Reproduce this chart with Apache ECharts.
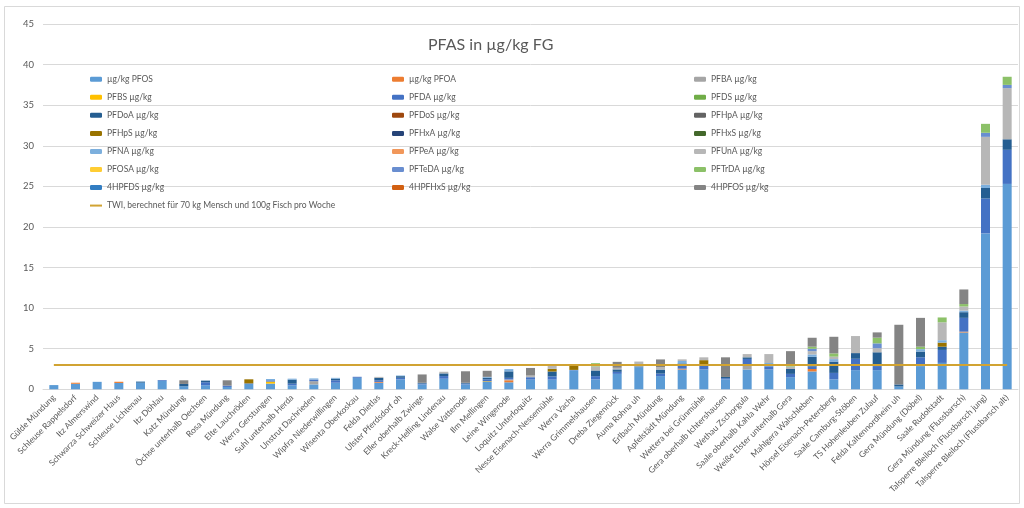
<!DOCTYPE html>
<html>
<head>
<meta charset="utf-8">
<script src="https://cdn.jsdelivr.net/npm/echarts@6/dist/echarts.min.js"></script>
<style>
html,body{margin:0;padding:0;background:#fff;}
#c{width:1024px;height:508px;}
</style>
</head>
<body>
<div id="c"></div>
<script>
const categories = ["Gülde Mündung","Schleuse Rappelsdorf","Itz Almerswind","Schwarza Schweizer Haus","Schleuse Lichtenau","Itz Döhlau","Katz Mündung","Öchse unterhalb Oechsen","Rosa Mündung","Elte Lauchröden","Werra Gerstungen","Suhl unterhalb Herda","Unstrut Dachrieden","Wipfra Niederwillingen","Wisenta Oberkoskau","Felda Dietlas","Ulster Pferdsdorf oh","Eller oberhalb Zwinge","Kreck-Helling Lindenau","Walse Vatterode","Ilm Mellingen","Leine Wingerode","Loquitz Unterloquitz","Nesse Eisenach-Nessemühle","Werra Vacha","Werra Grimmelshausen","Dreba Ziegenrück","Auma Rohna uh","Erlbach Mündung","Apfelstädt Mündung","Wettera bei Grünmühle","Gera oberhalb Ichtershausen","Wethau Zschorgula","Saale oberhalb Kahla Wehr","Weiße Elster unterhalb Gera","Mahlgera Walschleben","Hörsel Eisenach-Petersberg","Saale Camburg-Stöben","TS Hohenleuben Zulauf","Felda Kaltennordheim uh","Gera Mündung (Döbel)","Saale Rudolstadt","Gera Mündung (Flussbarsch)","Talsperre Bleiloch (Flussbarsch jung)","Talsperre Bleiloch (Flussbarsch alt)"];

const PFOS  = [0.52,0.68,0.92,0.78,0.82,1.05,0.37,0.5,0.29,0.66, 0.7,0.49,0.6,0.81,1.42,0.81,1.22,0.6,1.3,0.6, 0.9,0.86,1.19,1.19,2.34,1.22,1.9,2.72,1.63,2.44, 2.44,1.22,2.44,2.44,1.5,2.2,1.22,2.36,2.36,0.35, 2.85,3.25,7.0,19.2,25.3];
const PFOA  = [0,0.13,0,0.15,0,0,0,0,0,0, 0,0,0,0,0,0.1,0,0,0,0, 0,0.25,0,0,0,0,0,0,0,0.1, 0,0,0,0,0,0.3,0,0,0,0, 0,0,0.1,0,0];
const PFBA  = [0,0,0,0,0,0,0,0,0,0, 0,0,0.4,0,0,0,0,0,0,0, 0,0.1,0,0,0,0,0,0,0,0, 0,0,0.6,0,0,0,0,0,0,0, 0,0,0,0,0];
const PFBS  = [0,0,0,0,0,0,0,0,0,0, 0.25,0,0,0,0,0,0,0,0,0, 0.08,0,0,0,0,0,0,0,0,0, 0,0,0,0,0,0,0,0,0,0, 0,0,0,0,0];
const PFDA  = [0,0,0,0,0,0.09,0,0.37,0.16,0.07, 0.16,0.2,0.2,0.3,0.12,0.2,0.2,0.1,0.33,0.1, 0.25,0.2,0.3,0.4,0.05,0.4,0.25,0,0.3,0.35, 0.45,0.15,0.7,0.4,0.4,0.3,0.8,1.4,0.5,0, 1.1,1.6,1.7,4.3,4.2];
const PFDoA = [0,0,0,0,0.12,0,0.29,0.2,0,0, 0,0.5,0,0.2,0,0.3,0.2,0.1,0.33,0.1, 0.2,0.8,0,0.6,0,0.7,0.3,0.1,0.5,0.3, 0,0.15,0.2,0,0.6,1.2,1.4,0.7,1.7,0.25, 0.7,0.4,0.7,1.3,1.3];
const PFHpS = [0,0,0,0,0,0,0,0,0,0.5, 0,0,0,0,0,0,0,0,0,0, 0,0,0,0.33,0.5,0,0,0,0,0, 0.7,0,0,0,0,0,0,0,0,0, 0,0.5,0,0,0];
const PFNA  = [0,0,0,0,0.04,0,0,0,0,0, 0.16,0.12,0.14,0.1,0,0,0.08,0,0,0, 0.1,0.28,0,0,0,0,0,0,0,0.3, 0,0,0,0.4,0,0.3,0.3,0,0,0, 0.3,0.3,0.2,0.4,0];
const PFUnA = [0,0,0,0,0,0,0,0,0,0, 0,0,0,0,0,0.12,0,0,0.2,0, 0,0,0.2,0.37,0.06,0.5,0.2,0.6,0.3,0.2, 0.35,0,0.4,1.1,0.3,0.4,0.3,2.1,0.5,0, 0,2.2,0.5,5.9,6.3];
const PFTeDA = [0,0,0,0,0,0,0,0,0,0, 0,0,0,0,0,0,0,0,0,0, 0,0,0,0,0,0,0,0,0,0, 0,0,0,0,0,0.3,0,0,0.6,0, 0,0,0,0.5,0.4];
const PFTrDA = [0,0,0,0,0,0,0,0,0,0, 0,0,0,0,0,0,0,0,0,0, 0,0,0,0,0,0.4,0,0,0,0, 0,0,0,0,0.2,0.25,0.4,0,0.7,0, 0.3,0.6,0.3,1.1,1.0];
const HPFOS4 = [0,0,0,0,0,0,0.45,0,0.66,0, 0,0,0,0,0,0,0,1.03,0,1.42, 0.75,0,0.94,0,0,0,0.73,0,0.95,0, 0,2.42,0,0,1.7,1.1,2.05,0,0.65,7.35, 3.55,0,1.8,0,0];
const NONE  = [0,0,0,0,0,0,0,0,0,0, 0,0,0,0,0,0,0,0,0,0, 0,0,0,0,0,0,0,0,0,0, 0,0,0,0,0,0,0,0,0,0, 0,0,0,0,0];
const TWI   = [3,3,3,3,3,3,3,3,3,3, 3,3,3,3,3,3,3,3,3,3, 3,3,3,3,3,3,3,3,3,3, 3,3,3,3,3,3,3,3,3,3, 3,3,3,3,3];
const yTicks = {min:0, max:45, interval:5};

const seriesDefs = [
  ["µg/kg PFOS", PFOS, "#5B9BD5"],
  ["µg/kg PFOA", PFOA, "#ED7D31"],
  ["PFBA µg/kg", PFBA, "#A5A5A5"],
  ["PFBS µg/kg", PFBS, "#FFC000"],
  ["PFDA µg/kg", PFDA, "#4472C4"],
  ["PFDS µg/kg", NONE, "#70AD47"],
  ["PFDoA µg/kg", PFDoA, "#255E91"],
  ["PFDoS µg/kg", NONE, "#9E480E"],
  ["PFHpA µg/kg", NONE, "#636363"],
  ["PFHpS µg/kg", PFHpS, "#997300"],
  ["PFHxA µg/kg", NONE, "#264478"],
  ["PFHxS µg/kg", NONE, "#43682B"],
  ["PFNA µg/kg", PFNA, "#7CAFDD"],
  ["PFPeA µg/kg", NONE, "#F1975A"],
  ["PFUnA µg/kg", PFUnA, "#B7B7B7"],
  ["PFOSA µg/kg", NONE, "#FFCD33"],
  ["PFTeDA µg/kg", PFTeDA, "#698ED0"],
  ["PFTrDA µg/kg", PFTrDA, "#8CC168"],
  ["4HPFDS µg/kg", NONE, "#327DC2"],
  ["4HPFHxS µg/kg", NONE, "#D26012"],
  ["4HPFOS µg/kg", HPFOS4, "#848484"]
];
const twiName = "TWI, berechnet für 70 kg Mensch und 100g Fisch pro Woche";

const series = seriesDefs.map(d => ({
  name: d[0], type: 'bar', stack: 'total', data: d[1], barWidth: 9,
  itemStyle: {color: d[2]}
}));
series.push({
  name: twiName, type: 'line', data: TWI, symbol: 'none', showSymbol: false, z: 10,
  lineStyle: {color: '#D1A332', width: 2}, itemStyle: {color: '#D1A332'}
});

const names = seriesDefs.map(d => d[0]);
const col = k => names.filter((n, i) => i % 3 === k);
const font = 'Lato, "Liberation Sans", sans-serif';
const legendBase = {
  orient: 'vertical', top: 65.2, itemWidth: 12, itemHeight: 5, itemGap: 0,
  textStyle: {fontSize: 8.5, lineHeight: 18.05, color: '#595959', fontFamily: font},
  selectedMode: false
};

const chart = echarts.init(document.getElementById('c'));
chart.setOption({
  animation: false,
  backgroundColor: '#fff',
  title: {
    text: 'PFAS in µg/kg FG', left: 423, top: 32,
    textStyle: {fontSize: 16, fontWeight: 'normal', color: '#595959', fontFamily: font}
  },
  legend: [
    Object.assign({}, legendBase, {left: 85, data: col(0).concat([{name: twiName, icon: 'path://M0,0H12V2H0Z'}])}),
    Object.assign({}, legendBase, {left: 387, data: col(1)}),
    Object.assign({}, legendBase, {left: 689, data: col(2)})
  ],
  grid: {left: 43, right: 6, top: 24, bottom: 118.7, containLabel: false},
  xAxis: {
    type: 'category', data: categories,
    axisTick: {show: false},
    axisLine: {lineStyle: {color: '#d9d9d9'}},
    axisLabel: {rotate: 45, interval: 0, fontSize: 8.5, color: '#595959', margin: 7, fontFamily: font}
  },
  yAxis: {
    type: 'value', min: yTicks.min, max: yTicks.max, interval: yTicks.interval,
    axisLine: {show: false}, axisTick: {show: false},
    splitLine: {lineStyle: {color: '#d9d9d9'}},
    axisLabel: {fontSize: 9.5, color: '#595959', margin: 9, fontFamily: font}
  },
  graphic: [{
    type: 'rect', shape: {x: 4.5, y: 6.5, width: 1015, height: 497},
    style: {fill: 'none', stroke: '#d9d9d9', lineWidth: 1}, silent: true
  }],
  series: series
});
</script>
</body>
</html>
